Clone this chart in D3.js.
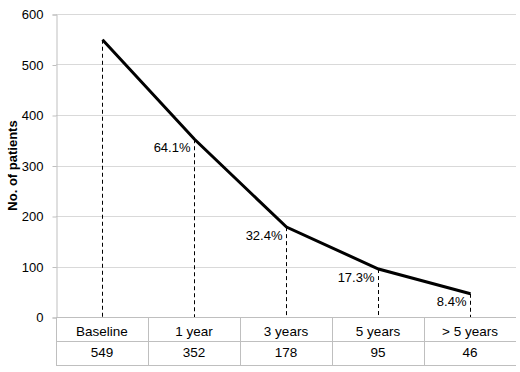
<!DOCTYPE html>
<html>
<head>
<meta charset="utf-8">
<title>Patients over time</title>
<script src="https://cdn.jsdelivr.net/npm/d3@7"></script>
<style>
  body { margin: 0; background: #fff; }
  text { font-family: "Liberation Sans", Arial, sans-serif; fill: #000; }
</style>
</head>
<body>
<script>
var categories = ['Baseline', '1 year', '3 years', '5 years', '> 5 years'];
var patients = [549, 352, 178, 95, 46];
var percentLabels = ['', '64.1%', '32.4%', '17.3%', '8.4%'];
var yTicks = [0, 100, 200, 300, 400, 500, 600];

var W = 520, H = 372;
var plotLeft = 56, plotRight = 516, plotTop = 14, plotBottom = 317;
var rowH = 24;

var svg = d3.select('body').append('svg')
    .attr('width', W)
    .attr('height', H);

var x = d3.scaleBand().domain(categories).range([plotLeft, plotRight]);
var y = d3.scaleLinear().domain([0, 600]).range([plotBottom, plotTop]);

// gridlines
svg.append('g').selectAll('line')
    .data(yTicks.filter(function(d) { return d > 0; }))
    .enter().append('line')
    .attr('x1', plotLeft).attr('x2', plotRight)
    .attr('y1', function(d) { return Math.round(y(d)) + 0.5; })
    .attr('y2', function(d) { return Math.round(y(d)) + 0.5; })
    .attr('stroke', '#d9d9d9');

// y axis
var yAxis = svg.append('g')
    .attr('transform', 'translate(' + (plotLeft + 0.5) + ',0.5)')
    .call(d3.axisLeft(y).tickValues(yTicks).tickSize(4).tickPadding(9));
yAxis.select('.domain').attr('stroke', '#bfbfbf');
yAxis.selectAll('.tick line').attr('stroke', '#bfbfbf');
yAxis.selectAll('.tick text').style('font-size', '13px').attr('fill', '#000')
    .style('font-family', '"Liberation Sans", Arial, sans-serif');

svg.append('text')
    .attr('transform', 'translate(16.5,' + ((plotTop + plotBottom) / 2) + ') rotate(-90)')
    .attr('text-anchor', 'middle')
    .style('font-size', '13px')
    .style('font-weight', 'bold')
    .text('No. of patients');

// table below the axis
var table = svg.append('g');
[plotBottom, plotBottom + rowH, plotBottom + 2 * rowH].forEach(function(yy) {
    table.append('line')
        .attr('x1', plotLeft).attr('x2', plotRight)
        .attr('y1', yy + 0.5).attr('y2', yy + 0.5)
        .attr('stroke', '#bfbfbf');
});
categories.forEach(function(c) {
    table.append('line')
        .attr('x1', Math.round(x(c)) + 0.5).attr('x2', Math.round(x(c)) + 0.5)
        .attr('y1', plotBottom).attr('y2', plotBottom + 2 * rowH)
        .attr('stroke', '#bfbfbf');
});
table.selectAll('text.cat')
    .data(categories)
    .enter().append('text')
    .attr('class', 'cat')
    .attr('x', function(d) { return x(d) + x.bandwidth() / 2; })
    .attr('y', plotBottom + 18.5)
    .attr('text-anchor', 'middle')
    .style('font-size', '13.5px')
    .text(function(d) { return d; });
table.selectAll('text.val')
    .data(patients)
    .enter().append('text')
    .attr('class', 'val')
    .attr('x', function(d, i) { return x(categories[i]) + x.bandwidth() / 2; })
    .attr('y', plotBottom + rowH + 16)
    .attr('text-anchor', 'middle')
    .style('font-size', '13.5px')
    .text(function(d) { return d; });

function cx(i) { return Math.round(x(categories[i]) + x.bandwidth() / 2) + 0.5; }

// dashed drop lines
svg.append('g').selectAll('line')
    .data(patients)
    .enter().append('line')
    .attr('x1', function(d, i) { return cx(i); })
    .attr('x2', function(d, i) { return cx(i); })
    .attr('y1', function(d) { return y(d); })
    .attr('y2', plotBottom)
    .attr('stroke', '#000')
    .attr('stroke-width', 1)
    .attr('stroke-dasharray', '4,3');

// main line
var line = d3.line()
    .x(function(d, i) { return cx(i); })
    .y(function(d) { return y(d); });
svg.append('path')
    .datum(patients)
    .attr('d', line)
    .attr('fill', 'none')
    .attr('stroke', '#000')
    .attr('stroke-width', 3);

// percent labels
svg.append('g').selectAll('text')
    .data(patients)
    .enter().append('text')
    .attr('x', function(d, i) { return cx(i) - 4; })
    .attr('y', function(d) { return y(d) + 12.5; })
    .attr('text-anchor', 'end')
    .style('font-size', '13px')
    .text(function(d, i) { return percentLabels[i]; });
</script>
</body>
</html>
